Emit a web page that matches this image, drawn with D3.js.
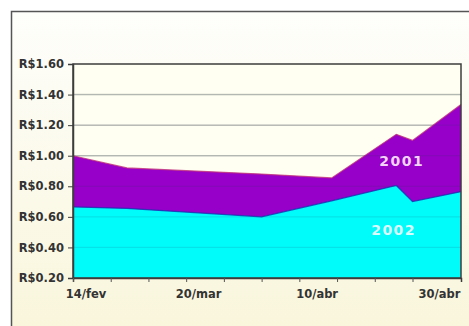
<!DOCTYPE html>
<html>
<head>
<meta charset="utf-8">
<script src="https://cdn.jsdelivr.net/npm/d3@7"></script>
<style>
  html, body { margin: 0; padding: 0; background: #ffffff; }
  svg { display: block; }
</style>
</head>
<body>
<svg id="chart" width="469" height="326"></svg>
<script>
// Readings along the period (day offset from the first reading)
const obsDay = [0, 10, 35, 48, 60, 63, 72];
// Price per reading, two years compared
const price2001 = [1.00, 0.92, 0.88, 0.855, 1.14, 1.10, 1.335];
const price2002 = [0.665, 0.655, 0.60, 0.705, 0.805, 0.70, 0.765];
const seriesNames = ["2001", "2002"];

// Axis ticks
const yTickValues = [0.20, 0.40, 0.60, 0.80, 1.00, 1.20, 1.40, 1.60];
const xTickLabels = ["14/fev", "20/mar", "10/abr", "30/abr"];
const xTickLabelDay = [2.4, 23.3, 45.3, 68.0];
const weekTickDays = d3.range(0, 64, 7);

const W = 469, H = 326;
const plot = { left: 73, top: 64, right: 461, bottom: 278 };

const svg = d3.select("#chart");
const defs = svg.append("defs");

const bg = defs.append("linearGradient")
  .attr("id", "bgGrad").attr("x1", 0).attr("y1", 0).attr("x2", 0).attr("y2", 1);
bg.append("stop").attr("offset", "0%").attr("stop-color", "#fefefb");
bg.append("stop").attr("offset", "100%").attr("stop-color", "#f9f5d9");

// Chart frame
svg.append("rect")
  .attr("x", 11.5).attr("y", 11.5)
  .attr("width", W + 20).attr("height", H + 20)
  .attr("fill", "url(#bgGrad)")
  .attr("stroke", "#555555").attr("stroke-width", 1.5);

const x = d3.scaleLinear().domain([0, 72]).range([plot.left, plot.right]);
const y = d3.scaleLinear().domain([0.2, 1.6]).range([plot.bottom, plot.top]);

// Plot area
svg.append("rect")
  .attr("x", plot.left).attr("y", plot.top)
  .attr("width", plot.right - plot.left).attr("height", plot.bottom - plot.top)
  .attr("fill", "#fffff2");

// Gridlines behind the areas
const grid = svg.append("g");
grid.selectAll("line").data(yTickValues.slice(1, -1)).join("line")
  .attr("x1", plot.left).attr("x2", plot.right)
  .attr("y1", d => y(d)).attr("y2", d => y(d))
  .attr("stroke", "#c9c9bf").attr("stroke-width", 1.5);

const series = [
  { name: seriesNames[0], values: price2001, fill: "#9600c8", edge: "#c0307a" },
  { name: seriesNames[1], values: price2002, fill: "#00fbfb", edge: "#1a2fb0" }
];

const area = d3.area()
  .x((d, i) => x(obsDay[i]))
  .y0(y(0.2))
  .y1(d => y(d));
const line = d3.line()
  .x((d, i) => x(obsDay[i]))
  .y(d => y(d));

series.forEach(s => {
  svg.append("path").attr("d", area(s.values)).attr("fill", s.fill);
  svg.append("path").attr("d", line(s.values))
    .attr("fill", "none").attr("stroke", s.edge).attr("stroke-width", 1.2)
    .attr("stroke-opacity", 0.8);
});

// Gridlines faintly showing through the filled areas
svg.append("g").selectAll("line").data(yTickValues.slice(1, -1)).join("line")
  .attr("x1", plot.left).attr("x2", plot.right)
  .attr("y1", d => y(d)).attr("y2", d => y(d))
  .attr("stroke", "#204060").attr("stroke-width", 1.2).attr("stroke-opacity", 0.12);

// Plot border
svg.append("rect")
  .attr("x", plot.left).attr("y", plot.top)
  .attr("width", plot.right - plot.left).attr("height", plot.bottom - plot.top)
  .attr("fill", "none").attr("stroke", "#3c3c3c").attr("stroke-width", 1.5);

// Y axis
const yAxis = d3.axisLeft(y)
  .tickValues(yTickValues)
  .tickSize(5).tickPadding(4)
  .tickFormat(d => "R$" + d3.format(".2f")(d));
const gy = svg.append("g").attr("transform", `translate(${plot.left},0)`).call(yAxis);
gy.select(".domain").attr("stroke", "#3c3c3c").attr("stroke-width", 1.5);
gy.selectAll(".tick line").attr("stroke", "#3c3c3c");
gy.selectAll(".tick text")
  .attr("fill", "#333333")
  .style("font-family", "'DejaVu Sans', sans-serif")
  .style("font-weight", "bold")
  .style("font-size", "11.5px");

// X axis: weekly tick marks
const xAxis = d3.axisBottom(x)
  .tickValues(weekTickDays)
  .tickSize(4)
  .tickFormat("");
const gx = svg.append("g").attr("transform", `translate(0,${plot.bottom})`).call(xAxis);
gx.select(".domain").attr("stroke", "#3c3c3c").attr("stroke-width", 1.5);
gx.selectAll(".tick line").attr("stroke", "#555555");

svg.append("g").selectAll("text").data(xTickLabels).join("text")
  .attr("x", (d, i) => x(xTickLabelDay[i]))
  .attr("y", plot.bottom + 20)
  .attr("text-anchor", "middle")
  .attr("fill", "#333333")
  .style("font-family", "'DejaVu Sans', sans-serif")
  .style("font-weight", "bold")
  .style("font-size", "11.5px")
  .text(d => d);

// Series labels inside the areas
svg.append("text")
  .attr("x", x(61)).attr("y", y(0.93))
  .attr("text-anchor", "middle")
  .attr("fill", "#f2d4f6")
  .style("font-family", "'DejaVu Sans', sans-serif")
  .style("font-weight", "bold")
  .style("font-size", "14px")
  .style("letter-spacing", "1.5px")
  .text(seriesNames[0]);

svg.append("text")
  .attr("x", x(59.5)).attr("y", y(0.48))
  .attr("text-anchor", "middle")
  .attr("fill", "#dcfcfc")
  .style("font-family", "'DejaVu Sans', sans-serif")
  .style("font-weight", "bold")
  .style("font-size", "14px")
  .style("letter-spacing", "1.5px")
  .text(seriesNames[1]);
</script>
</body>
</html>
